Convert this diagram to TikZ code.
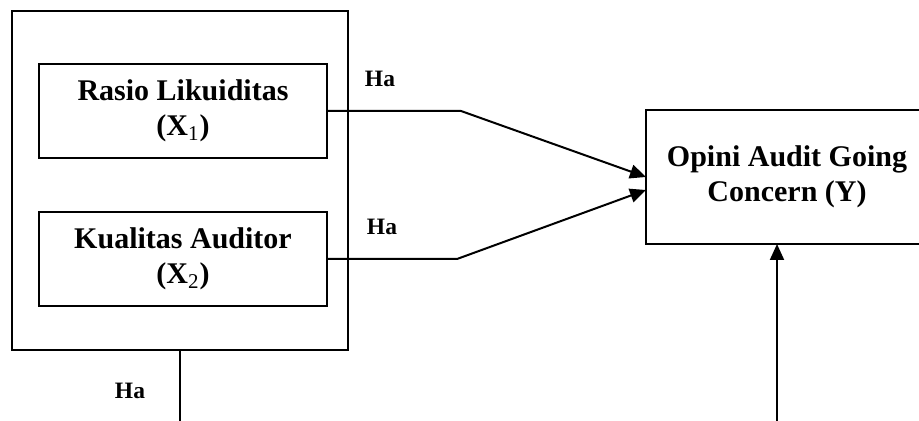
\documentclass[tikz,border=0pt]{standalone}
\usepackage{fontspec}
\setmainfont{Liberation Serif}
\usetikzlibrary{arrows.meta}
\begin{document}
\begin{tikzpicture}[x=0.5pt,y=-0.5pt,line width=1pt,
  box/.style={draw,rectangle,inner sep=0pt,outer sep=0pt,align=center,
    font=\fontsize{15}{17.5}\selectfont\bfseries},
  lbl/.style={font=\fontsize{11.75}{14}\selectfont\bfseries},
  arr/.style={-{Triangle[length=8pt,width=7pt]}}]
\clip (0,0) rectangle (919,421);
% Variables
\node[box,minimum width=168pt,minimum height=169.5pt] (indep) at (180,180.5) {};
\node[box,minimum width=144pt,minimum height=47pt] (rasio) at (183,111)
  {Rasio Likuiditas\\(X\textsubscript{\textmd{1}})};
\node[box,minimum width=144pt,minimum height=47pt] (kualitas) at (183,259)
  {Kualitas Auditor\\(X\textsubscript{\textmd{2}})};
\node[box,minimum width=141pt,minimum height=67pt] (opini) at (787,177)
  {Opini Audit Going\\Concern (Y)};
\coordinate (simul) at (180,421);
\coordinate (ctrl) at (777,421);
% Hypotheses
\draw[arr] (rasio.east) -- ++(134,0) -- (opini.west);
\draw[arr] (kualitas.east) -- ++(130,0) -- ([yshift=-6.5pt]opini.west);
\draw (indep.south) -- (simul);
\draw[arr] (ctrl) -- (ctrl |- opini.south);
\node[lbl] (ha1) at (380,79) {Ha};
\node[lbl] (ha2) at (382,227) {Ha};
\node[lbl] (ha3) at (130,391) {Ha};
\end{tikzpicture}
\end{document}
